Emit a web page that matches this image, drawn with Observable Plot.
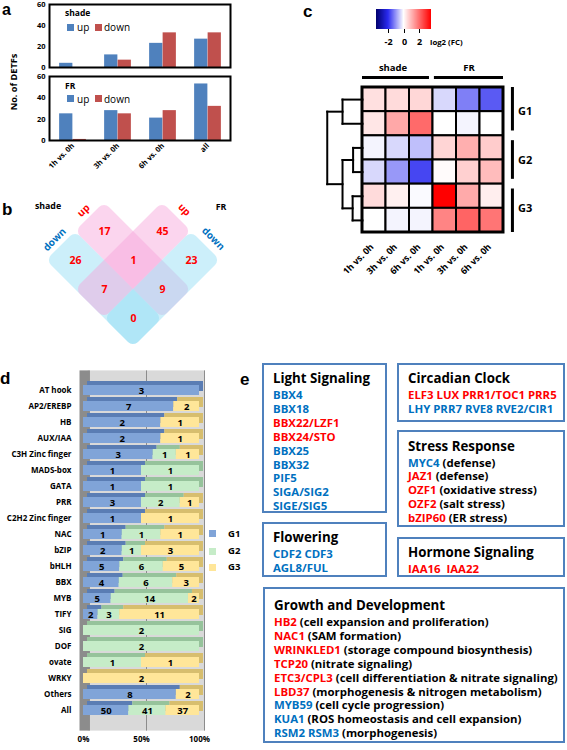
<!DOCTYPE html>
<html>
<head>
<meta charset="utf-8">
<script src="https://cdn.jsdelivr.net/npm/d3@7"></script>
<script src="https://cdn.jsdelivr.net/npm/@observablehq/plot@0.6"></script>
<style>
html,body{margin:0;padding:0;background:#fff;}
#fig{position:relative;width:567px;height:750px;overflow:hidden;background:#fff;}
#fig svg{position:absolute;overflow:visible;}
</style>
</head>
<body>
<div id="fig"></div>
<script>
// ================= DATA =================
// panel a
const comparisons = ["1h vs. 0h", "3h vs. 0h", "6h vs. 0h", "all"];
const shadeUp   = [4, 12, 23, 27];
const shadeDown = [0, 7, 33, 33];
const frUp      = [25, 28, 21, 53];
const frDown    = [1, 25, 28, 32];
const countTicks = [0, 20, 40, 60];
const directions = ["up", "down"];

// panel b
const vennSets = [
  {condition: "shade", direction: "up"},
  {condition: "shade", direction: "down"},
  {condition: "FR", direction: "up"},
  {condition: "FR", direction: "down"}
];
const vennRegions = [
  {shade: "up",   fr: null,   n: 17},
  {shade: null,   fr: "up",   n: 45},
  {shade: "down", fr: null,   n: 26},
  {shade: "up",   fr: "up",   n: 1},
  {shade: null,   fr: "down", n: 23},
  {shade: "down", fr: "up",   n: 7},
  {shade: "up",   fr: "down", n: 9},
  {shade: "down", fr: "down", n: 0}
];

// panel c
const hmColumns    = ["1h vs. 0h", "3h vs. 0h", "6h vs. 0h", "1h vs. 0h", "3h vs. 0h", "6h vs. 0h"];
const hmConditions = ["shade", "shade", "shade", "FR", "FR", "FR"];
const hmValues = [
  [0.43, 0.50, 0.55, -0.37, -1.20, -1.55],
  [0.34, 1.19, 2.05,  0.00, -0.10,  0.00],
  [-0.10, -0.37, -0.60, 0.57, 1.10, 0.70],
  [-0.37, -0.97, -1.74, 0.05, 0.64, 0.92],
  [0.50, 0.20, -0.05, 3.50, 1.17, 0.23],
  [0.00, -0.10, -0.10, 1.69, 2.13, 1.90]
];
const hmGroups = ["G1", "G1", "G2", "G2", "G3", "G3"];
const fcTicks = [-2, 0, 2];
const dendroMerges = [
  {id: "n1", children: [0, 1], height: 0.85},
  {id: "n2", children: [2, 3], height: 0.40},
  {id: "n3", children: [4, 5], height: 0.42},
  {id: "n4", children: ["n2", "n3"], height: 0.85},
  {id: "n5", children: ["n1", "n4"], height: 1.50}
];

// panel d
const families = ["AT hook", "AP2/EREBP", "HB", "AUX/IAA", "C3H Zinc finger", "MADS-box", "GATA", "PRR",
  "C2H2 Zinc finger", "NAC", "bZIP", "bHLH", "BBX", "MYB", "TIFY", "SIG", "DOF", "ovate", "WRKY", "Others", "All"];
const g1Counts = [3, 7, 2, 2, 3, 1, 1, 3, 1, 1, 2, 5, 4, 5, 2, 0, 0, 0, 0, 8, 50];
const g2Counts = [0, 0, 0, 0, 1, 1, 1, 2, 0, 1, 1, 6, 6, 14, 3, 2, 2, 1, 0, 0, 41];
const g3Counts = [0, 2, 1, 1, 1, 0, 0, 1, 1, 1, 3, 5, 3, 2, 11, 0, 0, 1, 2, 2, 37];
const groupNames = ["G1", "G2", "G3"];
const pctTicks = [0, 0.5, 1];

// panel e  [genes, direction, note]
const lightSignaling = [["BBX4","down",""],["BBX18","down",""],["BBX22/LZF1","up",""],["BBX24/STO","up",""],
  ["BBX25","down",""],["BBX32","down",""],["PIF5","down",""],["SIGA/SIG2","down",""],["SIGE/SIG5","down",""]];
const circadianClock = [["ELF3 LUX PRR1/TOC1 PRR5","up",""],["LHY PRR7 RVE8 RVE2/CIR1","down",""]];
const stressResponse = [["MYC4","down"," (defense)"],["JAZ1","up","(defense)"],["OZF1","up","(oxidative stress)"],
  ["OZF2","up","(salt stress)"],["bZIP60","up","(ER stress)"]];
const flowering = [["CDF2 CDF3","down",""],["AGL8/FUL","down",""]];
const hormoneSignaling = [["IAA16  IAA22","up",""]];
const growthDevelopment = [["HB2","up","(cell expansion and proliferation)"],["NAC1","up","(SAM formation)"],
  ["WRINKLED1","up","(storage compound biosynthesis)"],["TCP20","up","(nitrate signaling)"],
  ["ETC3/CPL3","up","(cell differentiation & nitrate signaling)"],["LBD37","up","(morphogenesis & nitrogen metabolism)"],
  ["MYB59","down","(cell cycle progression)"],["KUA1","down","(ROS homeostasis and cell expansion)"],
  ["RSM2 RSM3","down","(morphogenesis)"]];

// ================= STYLE =================
const FONT = "'Open Sans', 'DejaVu Sans', sans-serif";
const LETTER_FONT = "'Liberation Sans', Arial, sans-serif";
const UP_BAR = "#4f81bd", DOWN_BAR = "#c0504d";
const RED = "#ff0000", BLUE = "#0070c0";
const fig = document.getElementById("fig");

function put(el, left, top) {
  el.style.position = "absolute"; el.style.left = left + "px"; el.style.top = top + "px";
  fig.appendChild(el); return el;
}
function txt(text, x, y, o = {}) {
  const {size = 10, weight = "bold", color = "#000", anchor = "start", rotate = 0, family = FONT, lh = "1"} = o;
  const s = document.createElement("div");
  s.textContent = text;
  Object.assign(s.style, {position: "absolute", left: x + "px", top: y + "px", fontSize: size + "px",
    fontWeight: weight, color, fontFamily: family, whiteSpace: "pre", lineHeight: lh});
  const tx = anchor === "start" ? "0" : anchor === "middle" ? "-50%" : "-100%";
  s.style.transformOrigin = (anchor === "start" ? "0" : anchor === "middle" ? "50%" : "100%") + " 50%";
  s.style.transform = `translate(${tx},-50%)` + (rotate ? ` rotate(${rotate}deg)` : "");
  fig.appendChild(s); return s;
}
const letter = (t, x, y, size = 17) => txt(t, x, y, {size, family: LETTER_FONT});
function swatch(x, y, w, h, color) {
  const d = document.createElement("div");
  Object.assign(d.style, {width: w + "px", height: h + "px", background: color});
  return put(d, x, y);
}
const plotStyle = (size) => ({fontFamily: FONT, fontSize: size + "px", fontWeight: "bold", background: "transparent", overflow: "visible"});

// ================= PANEL A =================
function barPanel(up, down, showX) {
  const rows = comparisons.map((c, i) => ({cmp: c, up: up[i], down: down[i]}));
  const W = 235, ML = 49, MR = 5;
  const bw = (W - ML - MR) / comparisons.length, barW = 13.5;
  const near = bw / 2 - barW, far = bw / 2;
  return Plot.plot({
    width: W, height: showX ? 112 : 70,
    marginLeft: ML, marginRight: MR, marginTop: showX ? 3 : 4, marginBottom: showX ? 45 : 3,
    style: plotStyle(7.5),
    x: {type: "band", domain: comparisons, padding: 0, axis: showX ? "bottom" : null,
        tickRotate: -45, tickSize: 0, tickPadding: 4, label: null},
    y: {domain: [0, 60], ticks: countTicks, tickSize: 0, tickPadding: 4, label: null},
    marks: [
      Plot.barY(rows, {x: "cmp", y: "up", fill: UP_BAR, insetLeft: near, insetRight: far}),
      Plot.barY(rows, {x: "cmp", y: "down", fill: DOWN_BAR, insetLeft: far, insetRight: near}),
      Plot.frame({stroke: "#000", strokeWidth: 2})
    ]
  });
}
put(barPanel(shadeUp, shadeDown, false), 0, 0);
put(barPanel(frUp, frDown, true), 0, 73);
letter("a", 2, 9.5, 16);
txt("No. of DETFs", 14, 82, {size: 9.2, anchor: "middle", rotate: -90});
[["shade", 13, 27], ["FR", 86, 98.5]].forEach(([name, ty, ly]) => {
  txt(name, 65, ty, {size: 8.5});
  swatch(67, ly - 3.5, 7, 7, UP_BAR);
  txt(directions[0], 77, ly, {size: 10, weight: "normal"});
  swatch(95, ly - 3.5, 7, 7, DOWN_BAR);
  txt(directions[1], 104, ly, {size: 10, weight: "normal"});
});

// ================= PANEL B =================
const U = 41;
const dirIndex = d => d === null ? -1 : directions.indexOf(d);
const rot = (p, q) => ({x: (p - q) / Math.SQRT2, y: (p + q) / Math.SQRT2});
const vennRects = vennSets.map(s => {
  const k = directions.indexOf(s.direction);
  const isRow = s.condition === "shade";
  return {...s,
    p1: isRow ? -1.5 : k - 0.5, p2: isRow ? 1.5 : k + 0.5,
    q1: isRow ? k - 0.5 : -1.5, q2: isRow ? k + 0.5 : 1.5,
    label: rot(isRow ? -1.72 : k, isRow ? k : -1.75), angle: isRow ? -45 : 45};
});
const venn = Plot.plot({
  width: 240, height: 165, margin: 0,
  style: plotStyle(10),
  x: {domain: [-133 / U, 107 / U], axis: null},
  y: {domain: [-70 / U, 95 / U], reverse: true, axis: null},
  marks: [
    Plot.rect(vennRects, {x1: "p1", x2: "p2", y1: "q1", y2: "q2",
      fill: d => d.direction === "up" ? "#f7a1d9" : "#8fdcf5", fillOpacity: 0.45, rx: 7}),
    Plot.text(vennRegions, {x: d => rot(dirIndex(d.fr), dirIndex(d.shade)).x,
      y: d => rot(dirIndex(d.fr), dirIndex(d.shade)).y, text: "n", fill: RED, fontSize: 10.5, fontWeight: "bold"}),
    Plot.text(vennRects, {x: d => d.label.x, y: d => d.label.y, text: "direction", rotate: "angle",
      fill: d => d.direction === "up" ? RED : BLUE, fontSize: 10, fontWeight: "bold"})
  ]
});
{
  const rg = venn.querySelector('g[aria-label="rect"]');
  const cx = venn.scale("x").apply(0), cy = venn.scale("y").apply(0);
  rg.setAttribute("transform", `rotate(45 ${cx} ${cy}) ` + (rg.getAttribute("transform") || ""));
}
put(venn, 0, 190);
letter("b", 2, 209);
txt("shade", 48, 206, {size: 8.8, anchor: "middle"});
txt("FR", 221, 207, {size: 8.8, anchor: "middle"});

// ================= PANEL C =================
const nRows = hmValues.length, nCols = hmColumns.length;
const hmCells = hmValues.flatMap((row, r) => row.map((v, c) => ({r, c, v})));
const nodePos = {};
for (let i = 0; i < nRows; i++) nodePos[i] = {x: 0, y: i + 0.5};
const dendroSegs = [];
for (const m of dendroMerges) {
  const [a, b] = m.children.map(k => nodePos[k]);
  const x = -m.height;
  dendroSegs.push({x1: x, y1: a.y, x2: x, y2: b.y});
  dendroSegs.push({x1: x, y1: a.y, x2: a.x, y2: a.y});
  dendroSegs.push({x1: x, y1: b.y, x2: b.x, y2: b.y});
  nodePos[m.id] = {x, y: (a.y + b.y) / 2};
}
function runs(arr) {
  const out = [];
  arr.forEach((name, i) => {
    const last = out[out.length - 1];
    if (last && last.name === name) last.to = i + 1; else out.push({name, from: i, to: i + 1});
  });
  return out;
}
const condRuns = runs(hmConditions), groupRuns = runs(hmGroups);
const hmRamp = d3.scaleLinear().domain([-3.5, -2, 0, 3.5])
  .range(["#00006e", "#2a2af0", "#ffffff", "#ff0000"]).interpolate(d3.interpolateRgb);
const heat = Plot.plot({
  width: 267, height: 285, marginLeft: 3.25, marginRight: 5.25, marginTop: 87, marginBottom: 53,
  style: plotStyle(9),
  x: {domain: [-2.5, 8.5], axis: null},
  y: {domain: [0, nRows], reverse: true, axis: null},
  color: {type: "linear", domain: [-3.5, 3.5], interpolate: t => hmRamp(-3.5 + 7 * t)},
  marks: [
    Plot.rect(hmCells, {x1: "c", x2: d => d.c + 1, y1: "r", y2: d => d.r + 1, fill: "v", stroke: "#000", strokeWidth: 2}),
    Plot.rect([{}], {x1: 0, x2: nCols, y1: 0, y2: nRows, fill: "none", stroke: "#000", strokeWidth: 3}),
    Plot.link(dendroSegs, {x1: "x1", y1: "y1", x2: "x2", y2: "y2", stroke: "#000", strokeWidth: 2, strokeLinecap: "square"}),
    Plot.ruleY(condRuns, {y: -0.41, x1: d => d.from + (d.from > 0 ? 0.06 : 0), x2: d => d.to - (d.to < nCols ? 0.15 : 0), strokeWidth: 3}),
    Plot.text(condRuns, {x: d => (d.from + d.to) / 2 - (d.to < nCols ? 0.2 : -0.03), y: -0.8, text: "name", fontSize: 9.5}),
    Plot.ruleX(groupRuns, {x: 6.38, y1: d => d.from + (d.from > 0 ? 0.2 : 0), y2: d => d.to - (d.to < nRows ? 0.2 : 0), strokeWidth: 3}),
    Plot.text(groupRuns, {x: 6.62, y: d => (d.from + d.to) / 2, text: "name", textAnchor: "start", fontSize: 11}),
    Plot.text(hmColumns.map((name, i) => ({name, i})), {x: d => d.i + 0.5, y: nRows, text: "name",
      rotate: -45, textAnchor: "end", dx: -2, dy: 13, fontSize: 9})
  ]
});
put(heat, 300, 0);
const ramp = heat.legend("color", {width: 70, height: 38, marginLeft: 6, marginRight: 9, marginTop: 2, marginBottom: 16,
  ticks: fcTicks, tickSize: 4, tickFormat: d => (d < 0 ? "-" : "") + Math.abs(d), label: null,
  style: {fontFamily: FONT, fontSize: "9px", fontWeight: "bold", background: "transparent", overflow: "visible"}});
ramp.querySelectorAll(".tick line").forEach(l => l.setAttribute("y1", 0));
ramp.querySelectorAll(".tick text").forEach(t => t.setAttribute("y", +t.getAttribute("y") + 3));
put(ramp, 370, 7);
txt("log2 (FC)", 430, 43, {size: 7.8});
letter("c", 303, 11);

// ================= PANEL D =================
const gCounts = [g1Counts, g2Counts, g3Counts];
const frontColors = ["#80a4d8", "#c6ecc8", "#ffe699"];
const topColors = ["#5a7db4", "#96c39b", "#d7be6e"];
const dData = families.flatMap((f, i) => groupNames.map((g, j) => ({family: f, group: g, j, n: gCounts[j][i]})))
  .filter(d => d.n > 0);
const stackOpts = {x: "n", y: "family", z: "group", offset: "normalize"};
const famPlot = Plot.plot({
  width: 250, height: 382, marginLeft: 83, marginRight: 51, marginTop: 2.4, marginBottom: 19.4,
  style: plotStyle(8),
  x: {domain: [0, 1], ticks: pctTicks, tickFormat: "%", tickSize: 0, tickPadding: 5, label: null},
  y: {domain: families, padding: 0.36, tickSize: 0, tickPadding: 12, label: null},
  marks: [
    Plot.rect([{}], {x1: 0.04, x2: 1.05, fill: "#d9d9d9"}),
    Plot.rect([{}], {x1: -0.03, x2: 0.06, fill: "#8c8c8c"}),
    Plot.ruleX([0.5, 1], {dx: 5, stroke: "#8c8c8c"}),
    Plot.barX(dData, Plot.stackX({...stackOpts, fill: d => topColors[d.j], dx: 4, dy: -4})),
    Plot.barX(dData, Plot.stackX({...stackOpts, fill: d => frontColors[d.j]})),
    Plot.text(dData, Plot.stackX({...stackOpts, text: "n", fontSize: 9.5, fontWeight: "bold"}))
  ]
});
put(famPlot, 0, 368);
letter("d", 0, 378);
groupNames.forEach((g, j) => {
  const y = [533.5, 551, 567][j];
  swatch(209, y - 3.5, 7, 7, frontColors[j]);
  txt(g, 228, y, {size: 9.5});
});

// ================= PANEL E =================
letter("e", 240, 379);
function eBox(title, lines, left, top, right, bottom, pad) {
  const b = document.createElement("div");
  Object.assign(b.style, {width: (right - left) + "px", height: (bottom - top) + "px", border: "2px solid #4f81bd",
    boxSizing: "border-box", padding: `${pad}px 0 0 9px`, fontFamily: FONT, fontWeight: "bold", whiteSpace: "pre"});
  const t = document.createElement("div");
  Object.assign(t.style, {fontSize: "13.3px", lineHeight: "20px", color: "#000"});
  t.textContent = title; b.appendChild(t);
  for (const [genes, dir, note] of lines) {
    const l = document.createElement("div");
    Object.assign(l.style, {fontSize: "11.4px", lineHeight: "13.9px"});
    const g = document.createElement("span"); g.textContent = genes; g.style.color = dir === "up" ? RED : BLUE;
    l.appendChild(g);
    if (note) { const n = document.createElement("span"); n.textContent = (note.startsWith(" ") ? "" : " ") + note; n.style.color = "#000"; l.appendChild(n); }
    b.appendChild(l);
  }
  put(b, left, top);
}
eBox("Light Signaling", lightSignaling, 262, 363, 387, 513, 3);
eBox("Circadian Clock", circadianClock, 397, 363, 565, 422, 3);
eBox("Stress Response", stressResponse, 397, 430, 565, 527, 3.5);
eBox("Flowering", flowering, 262, 522, 387, 577, 3);
eBox("Hormone Signaling", hormoneSignaling, 397, 537, 565, 577, 3);
eBox("Growth and Development", growthDevelopment, 263, 587, 565, 743, 6);
</script>
</body>
</html>
